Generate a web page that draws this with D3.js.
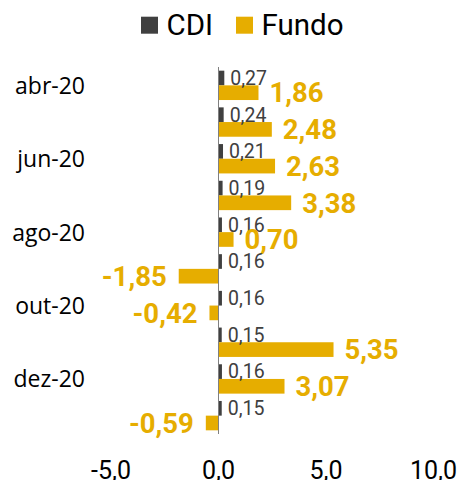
<!DOCTYPE html>
<html><head><meta charset="utf-8">
<script src="https://cdn.jsdelivr.net/npm/d3@7"></script>
<style>html,body{margin:0;padding:0;background:#fff;}</style>
</head><body>
<svg id="chart" width="461" height="480"></svg>
<script>
const categories = ["abr-20","mai-20","jun-20","jul-20","ago-20","set-20","out-20","nov-20","dez-20","jan-21"];
const cdi = [0.27,0.24,0.21,0.19,0.16,0.16,0.16,0.15,0.16,0.15];
const fundo = [1.86,2.48,2.63,3.38,0.70,-1.85,-0.42,5.35,3.07,-0.59];
const shownLabels = ["abr-20","jun-20","ago-20","out-20","dez-20"];
const xTicks = [-5,0,5,10];
const seriesNames = ["CDI","Fundo"];
const colors = ["#404040","#E6AD00"];

const svg = d3.select("#chart");
const locale = d3.formatLocale({decimal:",", thousands:".", grouping:[3], currency:["R$",""], minus:"-"});
const fmt = locale.format(".2f");
const fmt1 = locale.format(".1f");

const x = d3.scaleLinear().domain([-5,10]).range([111,433.5]);
const y = d3.scaleBand().domain(categories).range([67,434]).paddingInner(0.2).paddingOuter(0.1);
const yi = d3.scaleBand().domain(seriesNames).range([0,y.bandwidth()]);

// bars
const g = svg.append("g");
categories.forEach((c,i)=>{
  const vals=[cdi[i],fundo[i]];
  vals.forEach((v,j)=>{
    g.append("rect")
      .attr("x", Math.min(x(0),x(v)))
      .attr("y", y(c)+yi(seriesNames[j]))
      .attr("width", Math.abs(x(v)-x(0)))
      .attr("height", yi.bandwidth())
      .attr("fill", colors[j]);
  });
  const cy = y(c)+yi("CDI")+yi.bandwidth()/2;
  g.append("text").attr("x", x(Math.max(0,cdi[i]))+6).attr("y", cy+6.8)
    .attr("font-family","Roboto").attr("font-size",19.5).attr("fill","#404040")
    .text(fmt(cdi[i]));
  const fy = y(c)+yi("Fundo")+yi.bandwidth()/2;
  const fv = fundo[i];
  g.append("text").attr("x", fv>=0 ? x(fv)+11 : x(fv)-12).attr("y", fy+9.8)
    .attr("text-anchor", fv>=0?"start":"end")
    .attr("font-family","Roboto").attr("font-weight","bold").attr("font-size",27.5).attr("fill",colors[1])
    .text(fmt(fv));
});

// y axis line
svg.append("line").attr("x1",x(0)).attr("x2",x(0)).attr("y1",67).attr("y2",434)
  .attr("stroke","#808080").attr("stroke-width",1);

// category labels
shownLabels.forEach(c=>{
  svg.append("text").attr("x",85).attr("y", y(c)+y.bandwidth()/2+8.5)
    .attr("text-anchor","end").attr("font-family","Open Sans").attr("font-size",23).attr("fill","#000")
    .text(c);
});

// x tick labels
xTicks.forEach(t=>{
  svg.append("text").attr("x",x(t)).attr("y",479).attr("text-anchor","middle")
    .attr("font-family","Roboto").attr("font-size",25).attr("fill","#000").text(fmt1(t));
});

// legend
const leg = [{n:"CDI",c:colors[0],sx:141,tx:166.5},{n:"Fundo",c:colors[1],sx:236,tx:261.5}];
leg.forEach(l=>{
  svg.append("rect").attr("x",l.sx).attr("y",16.7).attr("width",17).attr("height",17).attr("fill",l.c);
  svg.append("text").attr("x",l.tx).attr("y",35).attr("font-family","Roboto").attr("font-size",29.5).attr("fill","#000").text(l.n);
});
</script>
</body></html>
